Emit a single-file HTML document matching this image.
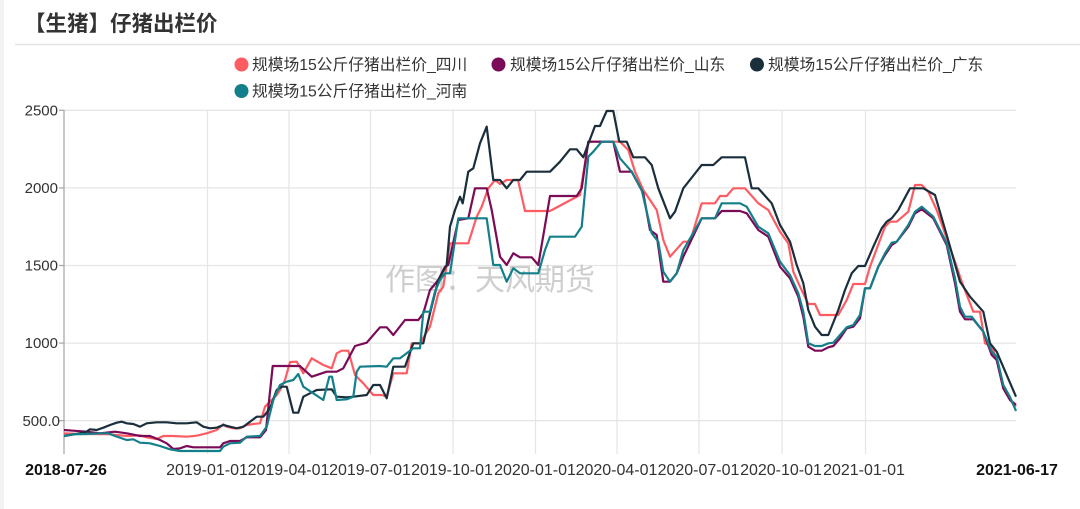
<!DOCTYPE html>
<html><head><meta charset="utf-8"><style>
html,body{margin:0;padding:0;background:#fff;}
body{width:1080px;height:509px;overflow:hidden;}
svg{display:block;}
</style></head><body>
<svg width="1080" height="509" viewBox="0 0 1080 509" xmlns="http://www.w3.org/2000/svg" font-family="'Liberation Sans','Noto Sans CJK SC',sans-serif">
<rect x="0" y="0" width="1080" height="509" fill="#fff"/>
<rect x="0" y="0" width="4" height="509" fill="#f3f3f3"/>
<text x="24" y="31" font-size="21.5" font-weight="bold" fill="#333" font-family="'Liberation Sans','Noto Sans CJK SC',sans-serif">【生猪】仔猪出栏价</text>
<line x1="15" y1="44.5" x2="1080" y2="44.5" stroke="#e2e2e2" stroke-width="1.5"/>
<!-- legend -->
<g font-size="15.75" fill="#333">
<circle cx="241.5" cy="64.5" r="7" fill="#fd5c63"/><text x="252" y="70">规模场15公斤仔猪出栏价_四川</text>
<circle cx="498.5" cy="64.5" r="7" fill="#7b0a57"/><text x="510" y="70">规模场15公斤仔猪出栏价_山东</text>
<circle cx="757" cy="64.5" r="7" fill="#1a2e3b"/><text x="768" y="70">规模场15公斤仔猪出栏价_广东</text>
<circle cx="241.5" cy="91" r="7" fill="#137f8a"/><text x="252" y="96.5">规模场15公斤仔猪出栏价_河南</text>
</g>
<!-- grid -->
<g stroke="#e6e6e6" stroke-width="1.3">
<line x1="64" y1="110.3" x2="1016" y2="110.3"/>
<line x1="64" y1="187.9" x2="1016" y2="187.9"/>
<line x1="64" y1="265.5" x2="1016" y2="265.5"/>
<line x1="64" y1="343.1" x2="1016" y2="343.1"/>
<line x1="64" y1="420.7" x2="1016" y2="420.7"/>
<line x1="207.5" y1="110" x2="207.5" y2="454"/>
<line x1="289" y1="110" x2="289" y2="454"/>
<line x1="370.5" y1="110" x2="370.5" y2="454"/>
<line x1="453" y1="110" x2="453" y2="454"/>
<line x1="535.5" y1="110" x2="535.5" y2="454"/>
<line x1="617" y1="110" x2="617" y2="454"/>
<line x1="699" y1="110" x2="699" y2="454"/>
<line x1="782" y1="110" x2="782" y2="454"/>
<line x1="865.5" y1="110" x2="865.5" y2="454"/>
</g>
<line x1="64" y1="110" x2="64" y2="454" stroke="#aaa" stroke-width="1.3"/>
<g stroke="#aaa" stroke-width="1.3">
<line x1="59" y1="110.3" x2="64" y2="110.3"/>
<line x1="59" y1="187.9" x2="64" y2="187.9"/>
<line x1="59" y1="265.5" x2="64" y2="265.5"/>
<line x1="59" y1="343.1" x2="64" y2="343.1"/>
<line x1="59" y1="420.7" x2="64" y2="420.7"/>
</g>
<g font-size="15" fill="#333" text-anchor="end">
<text x="58" y="115.5">2500</text>
<text x="58" y="193">2000</text>
<text x="58" y="270.5">1500</text>
<text x="58" y="348">1000</text>
<text x="60" y="426">500.0</text>
</g>
<g font-size="16" fill="#333" text-anchor="middle">
<text x="66" y="475" font-weight="bold" fill="#111">2018-07-26</text>
<text x="207" y="475">2019-01-01</text>
<text x="288.5" y="475">2019-04-01</text>
<text x="370" y="475">2019-07-01</text>
<text x="452" y="475">2019-10-01</text>
<text x="535" y="475">2020-01-01</text>
<text x="616.5" y="475">2020-04-01</text>
<text x="698.5" y="475">2020-07-01</text>
<text x="781" y="475">2020-10-01</text>
<text x="864" y="475">2021-01-01</text>
<text x="1017" y="475" font-weight="bold" fill="#111">2021-06-17</text>
</g>
<!-- watermark -->
<text x="385" y="290" font-size="30" fill="#bdbdbd" fill-opacity="0.75" font-family="'Noto Sans CJK SC',sans-serif">作图：天风期货</text>
<!-- series -->
<g fill="none" stroke-width="2.2" stroke-linejoin="round">
<polyline stroke="#fd5c63" points="64,433.3 80,434 93.3,434 110,434.3 126.7,436 140,435.3 146.7,437.3 156.7,439 163.3,436 173.3,436 186.7,436.7 196.7,435.7 206.7,433.3 216.7,430 223.3,424.3 226.7,426.7 233.3,428.3 240,428.3 246.7,425 253.3,424 260,423.3 265,406.7 270,401.7 276.7,395 280,390 285,380 290,362 296.7,361.7 303.3,373.3 311.7,358.3 323.3,365 331.7,368.3 336.7,353.3 341.7,350.7 348.3,350.7 355,375 363.3,383.3 373.3,395 381.7,395 386.7,396.7 393.3,373.3 406.7,373.3 411.7,343.3 420,343.3 430,326.7 438.3,293.3 443.3,286.7 450,243.3 468.3,243.3 476.7,216.7 481.7,206.7 488.3,188.3 495,180 500,184 506.7,180 518,180 525,211 550,211 580,195 588.3,141.7 620,141.7 628.3,150 635,171.7 643.3,190 656.7,210 663.3,240 670,256.7 683.3,241.7 690,241.7 701.7,203.3 715,203.3 720,196 726.7,196 733.3,188.3 745,188.3 758.3,203.3 768.3,210 780,231.7 788.3,243.3 793.3,271.7 800,286.7 808.3,304 815,304 820,315 838.3,315 846.7,300 853.3,284 865,284 870,266.7 880,240 885,226.7 890,221.7 896.7,221.7 908.3,211.7 915,185 921.7,185 928.3,191.7 936.7,210 946.7,238.3 956.7,266.7 961.7,281.7 973.3,311.7 980,311.7 985,343.3 991.7,346 996.7,360 1003.3,388.3 1010,400 1016,406.7"/>
<polyline stroke="#7b0a57" points="64,430 73.3,430.7 86.7,431.7 100,433.3 115,431.7 126.7,433.3 140,436 150,436 160,440 166.7,443.3 173.3,449 180,448.3 186.7,446 193.3,447.3 220,447.3 223.3,443.3 230,441 240,441 246.7,437.3 260,437.3 266,430 272.7,366 300,366 311.7,376.7 326.7,371.7 336.7,371.7 343.3,368.3 355,346 366.7,342.7 380,327.3 386.7,327.3 393.3,335 405,320 418.3,320 423.3,313.3 430,290 438.3,280 445,266.7 448.3,265 458.3,220 468.3,218.3 475,188.3 486.7,188.3 491.7,210 500,256.7 506.7,265 513.3,253.3 520,257.3 531.7,257.3 538.3,265 550,196 576.7,196 581.7,188.3 588.3,141.7 613.3,141.7 620,171.7 631.7,171.7 643.3,193.3 650,230 656.7,235 663.3,281.7 670,281.7 676.7,273.3 683.3,256.7 701.7,218.3 715,218.3 721.7,211 740,211 746.7,213.3 758.3,230 768.3,236.7 780,266.7 790,278.3 798.3,296.7 803.3,316.7 808.3,346.7 815,350.7 821.7,350.7 828.3,347.3 833.3,346 840,338.3 846.7,328.3 853.3,326.7 860,318.3 865,288.3 870,288.3 878.3,266.7 885,255 891.7,245 896.7,241.7 908.3,226.7 915,213.3 921.7,209.3 933.3,218.3 946.7,245 955,283.3 960,311.7 965,319.3 973.3,319.3 983.3,331.7 991.7,355 996.7,360 1003.3,388.3 1010,400 1016,404.7"/>
<polyline stroke="#1a2e3b" points="64,436 70,435 80,433.3 86,432 90,429.3 96.7,430 103.3,427.7 110,425 116.7,422.7 121.7,421.7 126.7,423.3 133.3,424 140,426.7 146.7,423.3 156.7,422.3 166.7,422.3 176.7,423.3 186.7,423.3 196.7,422.3 203.3,426.7 210,428.3 216.7,427.7 223.3,425 230,426.7 236.7,428.3 243.3,426.7 250,421.7 256.7,416.7 263.3,416.7 270,408.3 276.7,390 281.7,386.7 286.7,386.7 293.3,412.7 298.3,412.7 303.3,396.7 310,393.3 316.7,390 331.7,389.3 336.7,396.7 346.7,397.3 353.3,396.7 366.7,395 373.3,385 380,385 386.7,398.3 393.3,366.7 405,366.7 413.3,343.3 423.3,343.3 430,313.3 438.3,280 446.7,265 450,226.7 455,210 460,196.7 462.7,203.3 468.3,171.7 473.3,168.3 480,143.3 486.7,126.7 493.3,180 500,180 506.7,188.3 513.3,180 520,180 526.7,171.7 550,171.7 560,161.7 570,149.3 576.7,149.3 583.3,157.3 590,139.3 595,126 600,126 606.7,111 613.3,111 619.3,141.7 626.7,141.7 633.3,157.3 645,157.3 651.7,165 658.3,188.3 670,218.3 675,211.7 683.3,188.3 701.7,165 713.3,165 721.7,157.3 745,157.3 751.7,188.3 758.3,188.3 771.7,203.3 780,225 790,241.7 796.7,265 803.3,283.3 808.3,310 815,326.7 821.7,335 828.3,335 838.3,310 845,290 851.7,273.3 858.3,266 865,266 873.3,246.7 881.7,228.3 886.7,221.7 891.7,218.3 898.3,210 910,188.3 923.3,188.3 935,195 946.7,235 960,281.7 970,296.7 983.3,311.7 990,343.3 996.7,351.7 1016,396.7"/>
<polyline stroke="#137f8a" points="64,436 73.3,434.3 86.7,434 100,433.3 108.3,433.3 115,436 126.7,440 133.3,439.3 140,442.7 150,443.3 160,446 170,449.3 180,451 220,451 223.3,446.7 230,443.3 240,442.7 246.7,436.7 260,436 266.7,426.7 273.3,400 280,385 286.7,381.7 293.3,380 298.3,374 303.3,386.7 313.3,393.3 323.3,400 329.3,376.7 332,376.7 336.7,400 346.7,399.3 353.3,396.7 356.7,371.7 360,366.7 380,366 386.7,366.7 393.3,358.3 400,358.3 406.7,353.3 413.3,348.3 420,348.3 423.3,311.7 430,311.7 435,291.7 440,280 445,273.3 450,273.3 458.3,218.3 486.7,218.3 493.3,265 500,265 506.7,281.7 513.3,268.3 520,273.3 538.3,273.3 545,250 550,236.7 575,236.7 581.7,226.7 588.3,156.7 593.3,151.7 601.7,141.7 613.3,141.7 620,158.3 631.7,171.7 641.7,190 651.7,233.3 658.3,241.7 663.3,271.7 670,281.7 676.7,273.3 683.3,250 701.7,218.3 715,218.3 721.7,203.3 740,203.3 746.7,206.7 758.3,226.7 768.3,233.3 780,261.7 790,275 798.3,293.3 803.3,311.7 808.3,343.3 815,346 821.7,346 828.3,343.3 833.3,342.7 840,335 846.7,327.3 853.3,325 860,315 865,288.3 870,288.3 878.3,266.7 885,253.3 891.7,242.7 896.7,241.7 908.3,225 915,211.7 921.7,206.7 933.3,216.7 946.7,243.3 955,278.3 960,306.7 965,316.7 971.7,316.7 983.3,331.7 991.7,351.7 996.7,356.7 1003.3,385 1010,397 1016,411"/>
</g>
</svg>
</body></html>
